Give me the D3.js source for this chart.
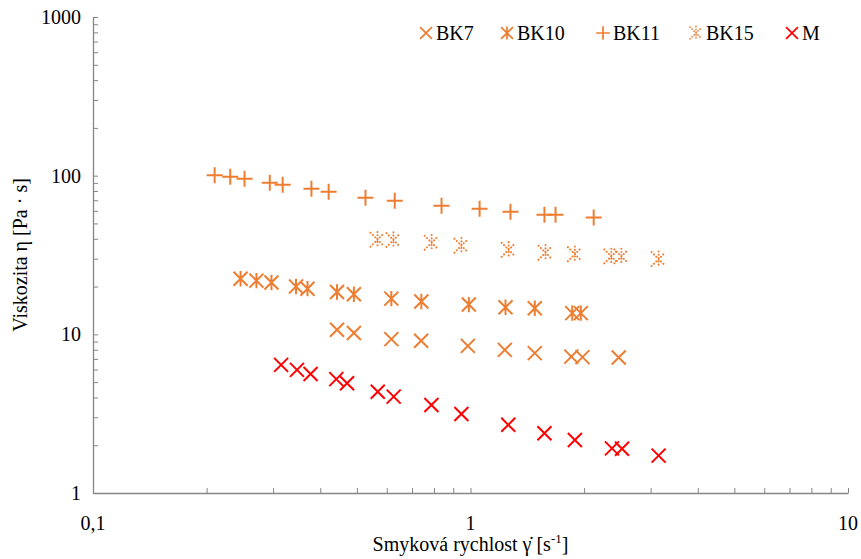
<html>
<head>
<meta charset="utf-8">
<script src="https://cdn.jsdelivr.net/npm/d3@7"></script>
</head>
<body style="margin:0">
<svg id="chart" width="861" height="559" style="font-family: Liberation Serif"></svg>
<script>
// Shear rate [1/s] and viscosity [Pa·s] for each sample
const bk7Rate = [0.443, 0.491, 0.617, 0.740, 0.984, 1.233, 1.48, 1.85, 1.98, 2.47];
const bk7Visc = [10.7, 10.2, 9.33, 9.1, 8.46, 7.98, 7.61, 7.24, 7.18, 7.14];

const bk10Rate = [0.246, 0.271, 0.297, 0.345, 0.370, 0.443, 0.491, 0.617, 0.741, 0.99, 1.238, 1.48, 1.86, 1.96];
const bk10Visc = [22.4, 21.8, 21.2, 20.0, 19.4, 18.5, 17.9, 16.8, 16.1, 15.4, 14.8, 14.6, 13.6, 13.6];

const bk11Rate = [0.210, 0.231, 0.252, 0.294, 0.318, 0.379, 0.421, 0.527, 0.630, 0.838, 1.057, 1.276, 1.57, 1.68, 2.12];
const bk11Visc = [100.5, 98.6, 95.7, 90.3, 87.7, 82.8, 79.3, 72.6, 69.5, 64.7, 61.9, 59.3, 56.7, 56.7, 54.4];

const bk15Rate = [0.567, 0.625, 0.789, 0.946, 1.262, 1.58, 1.89, 2.36, 2.51, 3.15];
const bk15Visc = [39.5, 39.3, 37.8, 36.2, 34.1, 32.7, 32.0, 31.0, 31.0, 29.8];

const mRate = [0.315, 0.347, 0.377, 0.441, 0.471, 0.568, 0.626, 0.788, 0.946, 1.259, 1.57, 1.89, 2.37, 2.52, 3.15];
const mVisc = [6.42, 5.97, 5.63, 5.22, 4.92, 4.35, 4.05, 3.59, 3.15, 2.69, 2.38, 2.16, 1.91, 1.90, 1.72];

const xTickValues = [0.1, 1, 10];
const xTickLabels = ["0,1", "1", "10"];
const yTickValues = [1, 10, 100, 1000];
const yTickLabels = ["1", "10", "100", "1000"];

const seriesNames = ["BK7", "BK10", "BK11", "BK15", "M"];

const ORANGE = "#ED7D31";
const RED = "#FF0000";
const FONT = "\"Liberation Serif\"";

const series = [
  { name: "BK7",  rate: bk7Rate,  visc: bk7Visc,  shape: "x",       color: ORANGE },
  { name: "BK10", rate: bk10Rate, visc: bk10Visc, shape: "star",    color: ORANGE },
  { name: "BK11", rate: bk11Rate, visc: bk11Visc, shape: "plus",    color: ORANGE },
  { name: "BK15", rate: bk15Rate, visc: bk15Visc, shape: "dotstar", color: ORANGE },
  { name: "M",    rate: mRate,    visc: mVisc,    shape: "x",       color: RED }
];

const svg = d3.select("#chart");
const plotLeft = 93, plotRight = 848, plotTop = 17, plotBottom = 493;

const x = d3.scaleLog().domain([0.1, 10]).range([plotLeft, plotRight]);
const y = d3.scaleLog().domain([1, 1000]).range([plotBottom, plotTop]);

const AXIS = "#868686";

// Minor ticks for each decade, pointing into the plot
const minorX = [];
const minorY = [];
[0.1, 1].forEach(d => { for (let k = 2; k <= 9; k++) minorX.push(d * k); });
[1, 10, 100].forEach(d => { for (let k = 2; k <= 9; k++) minorY.push(d * k); });

const xAxis = d3.axisBottom(x).tickValues(xTickValues.concat(minorX)).tickSizeInner(-5).tickSizeOuter(0).tickFormat("");
const yAxis = d3.axisLeft(y).tickValues(yTickValues.concat(minorY)).tickSizeInner(-5).tickSizeOuter(0).tickFormat("");

const gx = svg.append("g").attr("transform", `translate(0,${plotBottom})`).call(xAxis);
const gy = svg.append("g").attr("transform", `translate(${plotLeft},0)`).call(yAxis);
[gx, gy].forEach(g => {
  g.select(".domain").attr("stroke", AXIS).attr("stroke-width", 1.3);
  g.selectAll(".tick line").attr("stroke", AXIS).attr("stroke-width", 1);
});

// Tick labels
svg.selectAll(".xlab").data(xTickValues).join("text").attr("class", "xlab")
  .attr("x", d => x(d)).attr("y", plotBottom + 37)
  .attr("text-anchor", "middle").attr("font-size", 20)
  .style("font-family", FONT)
  .text((d, i) => xTickLabels[i]);

svg.selectAll(".ylab").data(yTickValues).join("text").attr("class", "ylab")
  .attr("x", plotLeft - 12).attr("y", d => y(d) + 7)
  .attr("text-anchor", "end").attr("font-size", 20)
  .style("font-family", FONT)
  .text((d, i) => yTickLabels[i]);

// Axis titles
const xt = svg.append("text").attr("x", (plotLeft + plotRight) / 2).attr("y", 551)
  .attr("text-anchor", "middle").attr("font-size", 20).style("font-family", FONT);
xt.append("tspan").text("Smyková rychlost γ\u0307 [s");
xt.append("tspan").attr("font-size", 13).attr("dy", -8).text("-1");
xt.append("tspan").attr("dy", 8).text("]");

svg.append("text")
  .attr("transform", `translate(27,${(plotTop + plotBottom) / 2}) rotate(-90)`)
  .attr("text-anchor", "middle").attr("font-size", 20).style("font-family", FONT)
  .text("Viskozita η [Pa · s]");

// Marker drawing
function drawMarker(g, shape, color) {
  const r = 7;
  if (shape === "x" || shape === "star" || shape === "dotstar") {
    const path = `M${-r},${-r}L${r},${r}M${-r},${r}L${r},${-r}` + (shape !== "x" ? `M0,${-r * 1.1}L0,${r * 1.1}` : "");
    const p = g.append("path").attr("d", path).attr("stroke", color).attr("fill", "none")
      .attr("stroke-width", 2);
    if (shape === "dotstar") {
      p.attr("stroke-dasharray", "0.1,3.2").attr("stroke-linecap", "round");
    }
  } else if (shape === "plus") {
    const s = 8;
    g.append("path").attr("d", `M${-s},0L${s},0M0,${-s}L0,${s}`)
      .attr("stroke", color).attr("fill", "none").attr("stroke-width", 2);
  }
}

const plot = svg.append("g");
series.forEach(s => {
  const pts = s.rate.map((r, i) => [r, s.visc[i]]);
  plot.append("g").selectAll("g").data(pts).join("g")
    .attr("transform", d => `translate(${x(d[0])},${y(d[1])})`)
    .each(function () { drawMarker(d3.select(this), s.shape, s.color); });
});

// Legend
const legendPos = [426, 507, 603, 696, 792];
seriesNames.forEach((name, i) => {
  const s = series.find(d => d.name === name);
  const m = svg.append("g").attr("transform", `translate(${legendPos[i]},33) scale(0.85)`);
  drawMarker(m, s.shape, s.color);
});
svg.selectAll(".leg").data(seriesNames).join("text").attr("class", "leg")
  .attr("x", (d, i) => legendPos[i] + 10).attr("y", 40)
  .attr("font-size", 20).style("font-family", FONT)
  .text(d => d);
</script>
</body>
</html>
